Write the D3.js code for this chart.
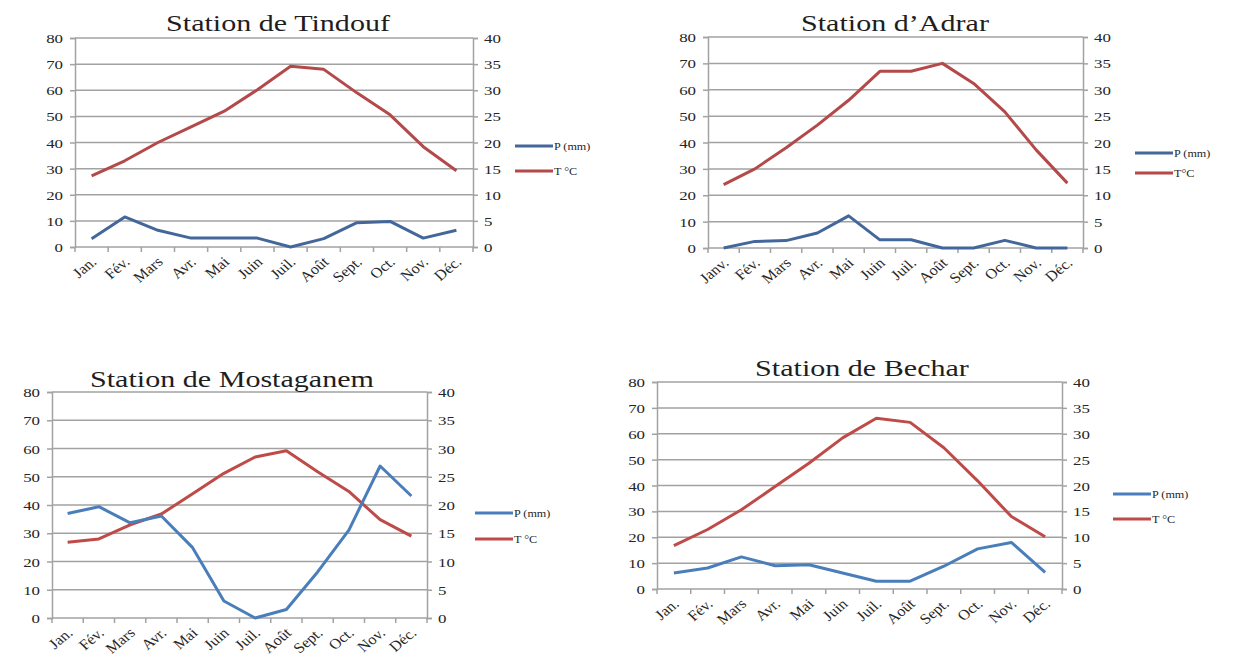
<!DOCTYPE html>
<html>
<head>
<meta charset="utf-8">
<script src="https://cdn.jsdelivr.net/npm/d3@7"></script>
<style>
  body { margin: 0; background: #fff; }
  svg { display: block; }
</style>
</head>
<body>
<svg id="chart" width="1235" height="668"></svg>
<script>
// Month labels (Adrar uses "Janv.")
const monthsStd   = ["Jan.", "Fév.", "Mars", "Avr.", "Mai", "Juin", "Juil.", "Août", "Sept.", "Oct.", "Nov.", "Déc."];
const monthsAdrar = ["Janv.", "Fév.", "Mars", "Avr.", "Mai", "Juin", "Juil.", "Août", "Sept.", "Oct.", "Nov.", "Déc."];

// Axis ticks: precipitation (left) and temperature (right)
const precipTicks = [0, 10, 20, 30, 40, 50, 60, 70, 80];
const tempTicks   = [0, 5, 10, 15, 20, 25, 30, 35, 40];

// Monthly precipitation (mm) and mean temperature (°C)
const tindoufP = [3.2, 11.5, 6.4, 3.4, 3.4, 3.4, 0, 3.2, 9.3, 9.8, 3.4, 6.4];
const tindoufT = [13.6, 16.5, 20, 23, 26, 30.1, 34.6, 34, 29.5, 25.3, 19.2, 14.6];

const adrarP = [0, 2.5, 2.8, 5.7, 12.2, 3.1, 3.1, 0, 0, 2.9, 0, 0];
const adrarT = [12, 15, 19, 23.3, 28, 33.5, 33.5, 35, 31.2, 25.8, 18.6, 12.3];

const mostaganemP = [37, 39.4, 33.7, 36.1, 24.9, 6, 0, 3, 16.3, 31.1, 53.8, 43.2];
const mostaganemT = [13.4, 14, 16.5, 18.4, 22, 25.6, 28.5, 29.6, 25.9, 22.4, 17.4, 14.5];

const becharP = [6.2, 8.1, 12.4, 9, 9.4, 6.2, 3, 3, 8.8, 15.5, 18, 6.4];
const becharT = [8.4, 11.5, 15.3, 19.8, 24.3, 29.2, 33, 32.2, 27.3, 20.9, 14, 10.1];

const panels = [
  { title: "Station de Tindouf", months: monthsStd, p: tindoufP, t: tindoufT,
    labelP: "P (mm)", labelT: "T °C",
    box: { left: 75, right: 473, top: 38, bottom: 247 },
    titleX: 278, titleY: 31,
    legend: { x: 515, yP: 146, yT: 171 },
    colP: "#44679b", colT: "#b4494a" },
  { title: "Station d\u2019Adrar", months: monthsAdrar, p: adrarP, t: adrarT,
    labelP: "P (mm)", labelT: "T°C",
    box: { left: 708, right: 1083, top: 37, bottom: 248 },
    titleX: 895, titleY: 31,
    legend: { x: 1135, yP: 153, yT: 173 },
    colP: "#44679b", colT: "#b4494a" },
  { title: "Station de Mostaganem", months: monthsStd, p: mostaganemP, t: mostaganemT,
    labelP: "P (mm)", labelT: "T °C",
    box: { left: 52, right: 427, top: 392, bottom: 618 },
    titleX: 232, titleY: 387,
    legend: { x: 475, yP: 513, yT: 539 },
    colP: "#4a7ebb", colT: "#be4b48" },
  { title: "Station de Bechar", months: monthsStd, p: becharP, t: becharT,
    labelP: "P (mm)", labelT: "T °C",
    box: { left: 657, right: 1062, top: 382, bottom: 589 },
    titleX: 862, titleY: 376,
    legend: { x: 1113, yP: 494, yT: 519 },
    colP: "#4a7ebb", colT: "#be4b48" }
];

const svg = d3.select("#chart");
const serif = "'Liberation Serif', 'Times New Roman', serif";
const gridCol = "#a2a2a2";
const textCol = "#262626";

// text placed at (x, y) and widened horizontally around its anchor
function wideText(parent, x, y, str, size, anchor, sx, extra) {
  return parent.append("text")
    .attr("transform", `translate(${x},${y}) scale(${sx},1)${extra || ""}`)
    .attr("text-anchor", anchor)
    .style("font-family", serif)
    .style("font-size", size + "px")
    .attr("fill", textCol)
    .text(str);
}

function drawPanel(cfg) {
  const g = svg.append("g");
  const b = cfg.box;

  const x = d3.scaleBand().domain(cfg.months).range([b.left, b.right]).padding(0);
  const yL = d3.scaleLinear().domain([0, 80]).range([b.bottom, b.top]);
  const yR = d3.scaleLinear().domain([0, 40]).range([b.bottom, b.top]);

  // horizontal gridlines
  g.append("g").selectAll("line").data(precipTicks).join("line")
    .attr("x1", b.left).attr("x2", b.right)
    .attr("y1", d => yL(d)).attr("y2", d => yL(d))
    .attr("stroke", gridCol).attr("stroke-width", 1.5);

  // left and right axes (lines and tick marks; labels drawn separately)
  const axL = g.append("g").attr("transform", `translate(${b.left},0)`)
    .call(d3.axisLeft(yL).tickValues(precipTicks).tickSize(5).tickFormat(""));
  const axR = g.append("g").attr("transform", `translate(${b.right},0)`)
    .call(d3.axisRight(yR).tickValues(tempTicks).tickSize(5).tickFormat(""));
  [axL, axR].forEach(ax => {
    ax.select(".domain").attr("stroke", gridCol).attr("stroke-width", 1.5);
    ax.selectAll(".tick line").attr("stroke", gridCol).attr("stroke-width", 1.5);
  });
  precipTicks.forEach(v => wideText(g, b.left - 12, yL(v) + 5, String(v), 13.5, "end", 1.25));
  tempTicks.forEach(v => wideText(g, b.right + 11, yR(v) + 5, String(v), 13.5, "start", 1.25));

  // bottom axis: ticks at category boundaries
  const bounds = cfg.months.map(m => x(m)).concat([b.right]);
  g.append("g").selectAll("line").data(bounds).join("line")
    .attr("x1", d => d).attr("x2", d => d)
    .attr("y1", b.bottom).attr("y2", b.bottom + 5)
    .attr("stroke", gridCol).attr("stroke-width", 1.5);

  // rotated month labels
  cfg.months.forEach(m => {
    wideText(g, x(m) + x.bandwidth() / 2 + 6, b.bottom + 16, m, 14.5, "end", 1.12, " rotate(-43)");
  });

  // series lines
  const cx = i => x(cfg.months[i]) + x.bandwidth() / 2;
  const lineP = d3.line().x((d, i) => cx(i)).y(d => yL(d));
  const lineT = d3.line().x((d, i) => cx(i)).y(d => yR(d));
  g.append("path").datum(cfg.t).attr("d", lineT)
    .attr("fill", "none").attr("stroke", cfg.colT).attr("stroke-width", 3)
    .attr("stroke-linejoin", "round");
  g.append("path").datum(cfg.p).attr("d", lineP)
    .attr("fill", "none").attr("stroke", cfg.colP).attr("stroke-width", 3)
    .attr("stroke-linejoin", "round");

  // title
  wideText(g, cfg.titleX, cfg.titleY, cfg.title, 23.5, "middle", 1.28).attr("fill", "#1e1e1e");

  // legend
  const lg = cfg.legend;
  const items = [
    { y: lg.yP, col: cfg.colP, label: cfg.labelP },
    { y: lg.yT, col: cfg.colT, label: cfg.labelT }
  ];
  items.forEach(it => {
    g.append("line").attr("x1", lg.x).attr("x2", lg.x + 38)
      .attr("y1", it.y).attr("y2", it.y)
      .attr("stroke", it.col).attr("stroke-width", 3);
    wideText(g, lg.x + 39, it.y + 3.5, it.label, 9.5, "start", 1.28);
  });
}

panels.forEach(drawPanel);
</script>
</body>
</html>
